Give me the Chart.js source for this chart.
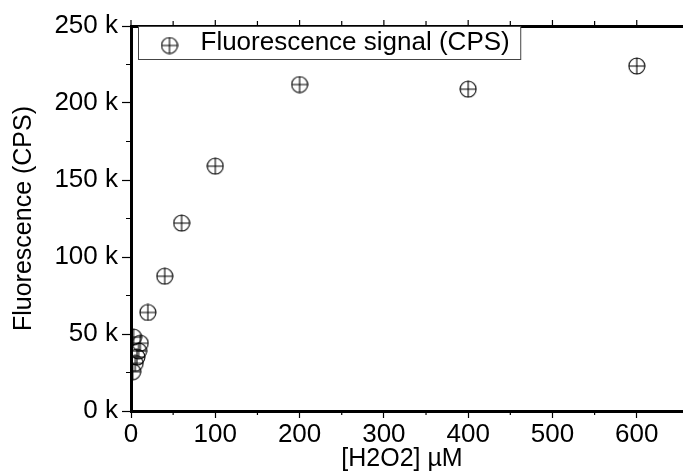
<!DOCTYPE html>
<html>
<head>
<meta charset="utf-8">
<script src="https://cdn.jsdelivr.net/npm/chart.js@4.4.1/dist/chart.umd.min.js"></script>
<style>
    html, body { margin: 0; padding: 0; background: #fff; overflow: hidden; }
    #wrap { width: 683px; height: 474px; }
    #chart { display: block; }
</style>
</head>
<body>
<div id="wrap"><canvas id="chart" width="683" height="474"></canvas></div>
<script>
// [H2O2] in µM
const concentrations = [2, 3, 5, 7, 9, 11, 20, 40, 60, 100, 200, 400, 600];
// Fluorescence in CPS
const fluorescence = [25500, 48000, 31000, 35000, 39000, 44000, 64000, 87500, 122000, 159000, 212000, 209000, 224000];
const seriesLabel = 'Fluorescence signal (CPS)';
// Ticks
const xMajor = [0, 100, 200, 300, 400, 500, 600];
const xMinor = [50, 150, 250, 350, 450, 550];
const yMajor = [0, 50000, 100000, 150000, 200000, 250000];
const yMinor = [25000, 75000, 125000, 175000, 225000];

Chart.defaults.font.family = "'Liberation Sans', Arial, sans-serif";
Chart.defaults.color = '#000';

//Circle with a cross, like the original marker
function makeMarker() {
    let c = document.createElement('canvas');
    c.width = 18;
    c.height = 18;
    let g = c.getContext('2d');
    g.strokeStyle = '#000';
    g.lineWidth = 1.1;
    g.beginPath();
    g.arc(9, 9, 8, 0, Math.PI * 2);
    g.moveTo(1, 9); g.lineTo(17, 9);
    g.moveTo(9, 1); g.lineTo(9, 17);
    g.stroke();
    return c;
}
const marker = makeMarker();

//Axis lines, top axis, minor ticks and boxed legend
const framePlugin = {
    id: 'frame',
    afterDraw(chart) {
        const ctx = chart.ctx;
        const a = chart.chartArea;
        const x = chart.scales.x;
        const y = chart.scales.y;
        const L = Math.round(a.left), T = Math.round(a.top), B = Math.round(a.bottom);
        ctx.save();
        ctx.fillStyle = '#000';
        ctx.fillRect(L - 1, T - 1, chart.width - L + 1, 3);
        ctx.fillRect(L - 1, T - 1, 3, B - T + 2);
        ctx.fillRect(L - 1, B - 1, chart.width - L + 1, 3);

        ctx.strokeStyle = '#000';
        ctx.lineWidth = 1.2;
        ctx.beginPath();
        xMajor.forEach(v => {
            let px = x.getPixelForValue(v);
            ctx.moveTo(px, T);
            ctx.lineTo(px, T - 6);
        });
        xMinor.forEach(v => {
            let px = x.getPixelForValue(v);
            ctx.moveTo(px, T);
            ctx.lineTo(px, T - 5);
            ctx.moveTo(px, B);
            ctx.lineTo(px, B + 4);
        });
        yMinor.forEach(v => {
            let py = y.getPixelForValue(v);
            ctx.moveTo(L, py);
            ctx.lineTo(L - 5, py);
        });
        ctx.stroke();

        //Legend
        let label = chart.data.datasets[0].label;
        ctx.font = "26px 'Liberation Sans', Arial, sans-serif";
        let tw = ctx.measureText(label).width;
        let left = L + 7.5;
        let top = T + 0.5;
        let w = 62 + tw + 11;
        let h = 33;
        ctx.fillStyle = '#fff';
        ctx.fillRect(left, top, w, h);
        ctx.strokeStyle = '#444';
        ctx.lineWidth = 1;
        ctx.strokeRect(left, top, w, h);
        ctx.drawImage(marker, left + 31 - 9, top + 19 - 9);
        ctx.fillStyle = '#000';
        ctx.textBaseline = 'alphabetic';
        ctx.fillText(label, left + 62, top + 23);
        ctx.restore();
    }
};

let ctx = document.getElementById('chart');
let myChart = new Chart(ctx, {
    type: 'scatter',
    data: {
        datasets: [{
            label: seriesLabel,
            data: concentrations.map((c, i) => ({x: c, y: fluorescence[i]})),
            pointStyle: marker,
            pointRadius: 9,
            showLine: false,
            clip: 0
        }]
    },
    options: {
        responsive: false,
        animation: false,
        layout: {
            padding: {top: 26, right: 0, bottom: 0, left: 0}
        },
        plugins: {
            legend: {display: false},
            tooltip: {enabled: false}
        },
        scales: {
            x: {
                type: 'linear',
                min: 0,
                max: 643,
                afterBuildTicks: s => { s.ticks = xMajor.map(v => ({value: v})); },
                afterFit: s => { s.height = 63; s.paddingLeft = 0; s.paddingRight = 0; },
                grid: {drawOnChartArea: false, tickLength: 7, tickColor: '#000', tickWidth: 1.2},
                border: {display: false},
                ticks: {color: '#000', font: {size: 26}, padding: 1, maxRotation: 0, callback: v => v},
                title: {display: true, text: '[H2O2] µM', color: '#000', font: {size: 25}, padding: {top: 0, bottom: 0}}
            },
            y: {
                min: 0,
                max: 250000,
                afterBuildTicks: s => { s.ticks = yMajor.map(v => ({value: v})); },
                afterFit: s => { s.width = 131; },
                grid: {drawOnChartArea: false, tickLength: 9, tickColor: '#000', tickWidth: 1.2},
                border: {display: false},
                ticks: {color: '#000', font: {size: 26}, padding: 4, callback: v => (v / 1000) + ' k'},
                title: {display: true, text: 'Fluorescence (CPS)', color: '#000', font: {size: 25}, padding: {top: 9, bottom: 0}}
            }
        }
    },
    plugins: [framePlugin]
});
</script>
</body>
</html>
